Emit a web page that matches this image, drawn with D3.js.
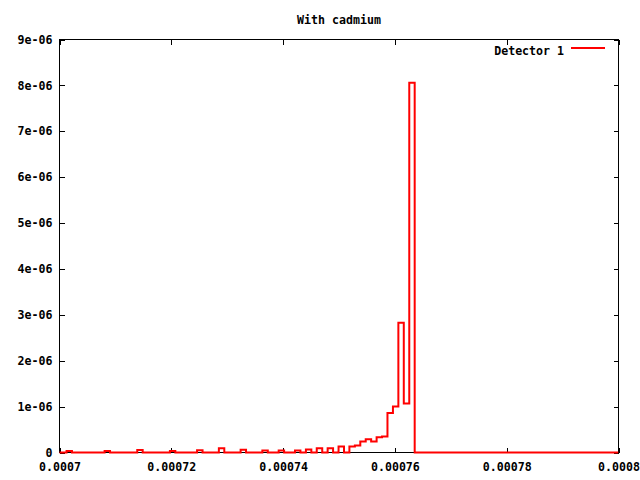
<!DOCTYPE html>
<html>
<head>
<meta charset="utf-8">
<script src="https://cdn.jsdelivr.net/npm/d3@7"></script>
<style>
  html, body { margin: 0; padding: 0; background: #fff; }
  text { font-family: "DejaVu Sans Mono", "Liberation Mono", monospace; font-weight: bold; font-size: 11.6px; fill: #000; }
</style>
</head>
<body>
<svg id="chart" width="640" height="480"></svg>
<script>
// Bin left edges (ascending) and bin contents
const binLeft = [
  0.00069931, 0.00070028, 0.00070126, 0.00070223, 0.00070320, 0.00070418, 0.00070515, 0.00070612,
  0.00070709, 0.00070807, 0.00070904, 0.00071001, 0.00071099, 0.00071196, 0.00071293, 0.00071391,
  0.00071488, 0.00071585, 0.00071683, 0.00071780, 0.00071877, 0.00071975, 0.00072072, 0.00072169,
  0.00072267, 0.00072364, 0.00072461, 0.00072559, 0.00072656, 0.00072753, 0.00072851, 0.00072948,
  0.00073045, 0.00073142, 0.00073240, 0.00073337, 0.00073434, 0.00073532, 0.00073629, 0.00073726,
  0.00073824, 0.00073921, 0.00074018, 0.00074116, 0.00074213, 0.00074310, 0.00074408, 0.00074505,
  0.00074602, 0.00074700, 0.00074797, 0.00074894, 0.00074992, 0.00075089, 0.00075186, 0.00075284,
  0.00075381, 0.00075478, 0.00075575, 0.00075673, 0.00075770, 0.00075867, 0.00075965, 0.00076062,
  0.00076159, 0.00076257
];
const binLastRight = 0.00076354;
const detector1 = [
  0, 0, 0.035e-6, 0, 0, 0, 0, 0,
  0, 0.035e-6, 0, 0, 0, 0, 0, 0.055e-6,
  0, 0, 0, 0, 0, 0.035e-6, 0, 0,
  0, 0, 0.05e-6, 0, 0, 0, 0.09e-6, 0,
  0, 0, 0.06e-6, 0, 0, 0, 0.045e-6, 0,
  0, 0.045e-6, 0, 0, 0.045e-6, 0, 0.065e-6, 0,
  0.09e-6, 0, 0.09e-6, 0, 0.13e-6, 0, 0.13e-6, 0.15e-6,
  0.24e-6, 0.29e-6, 0.24e-6, 0.33e-6, 0.35e-6, 0.86e-6, 1.00e-6, 2.83e-6,
  1.07e-6, 8.06e-6
];
const xTicks = [0.0007, 0.00072, 0.00074, 0.00076, 0.00078, 0.0008];
const xTickLabels = ["0.0007", "0.00072", "0.00074", "0.00076", "0.00078", "0.0008"];
const yTicks = [0, 1e-6, 2e-6, 3e-6, 4e-6, 5e-6, 6e-6, 7e-6, 8e-6, 9e-6];
const yTickLabels = ["0", "1e-06", "2e-06", "3e-06", "4e-06", "5e-06", "6e-06", "7e-06", "8e-06", "9e-06"];
const titleText = "With cadmium";
const seriesName = "Detector 1";

const svg = d3.select("#chart");
const L = 59.5, R = 618.5, T = 39.5, B = 452.5;

const x = d3.scaleLinear().domain([0.0007, 0.0008]).range([L, R]);
const y = d3.scaleLinear().domain([0, 9e-6]).range([B, T]);

// clip
svg.append("defs").append("clipPath").attr("id", "clip")
  .append("rect").attr("x", L).attr("y", 0).attr("width", R - L).attr("height", 480);

// axes
const fmtX = (d, i) => xTickLabels[i];
const fmtY = (d, i) => yTickLabels[i];

const gB = svg.append("g").attr("transform", `translate(0,${B})`)
  .call(d3.axisBottom(x).tickValues(xTicks).tickFormat(fmtX).tickSize(-5).tickPadding(10));
const gL = svg.append("g").attr("transform", `translate(${L},0)`)
  .call(d3.axisLeft(y).tickValues(yTicks).tickFormat(fmtY).tickSize(-5).tickPadding(7));
const gT = svg.append("g").attr("transform", `translate(0,${T})`)
  .call(d3.axisTop(x).tickValues(xTicks).tickFormat("").tickSize(-5));
const gR = svg.append("g").attr("transform", `translate(${R},0)`)
  .call(d3.axisRight(y).tickValues(yTicks).tickFormat("").tickSize(-5));

[gB, gL, gT, gR].forEach(g => {
  g.select(".domain").remove();
  g.selectAll("line").attr("stroke", "#000").attr("shape-rendering", "crispEdges");
  g.selectAll("text").attr("font-family", null).attr("font-size", null).style("fill", "#000");
});

svg.append("rect").attr("x", L).attr("y", T).attr("width", R - L).attr("height", B - T)
  .attr("fill", "none").attr("stroke", "#000").attr("stroke-width", 1).attr("shape-rendering", "crispEdges");

// step histogram
const pts = binLeft.map((e, i) => [e, detector1[i]]);
pts.push([binLastRight, 0]);
pts.push([0.0008, 0]);
const line = d3.line().x(d => x(d[0])).y(d => y(d[1])).curve(d3.curveStepAfter);
svg.append("path").attr("clip-path", "url(#clip)")
  .attr("d", line(pts))
  .attr("fill", "none").attr("stroke", "#ff0000").attr("stroke-width", 2)
  .attr("stroke-linejoin", "miter");

// title
svg.append("text").attr("x", (L + R) / 2).attr("y", 24).attr("text-anchor", "middle").text(titleText);

// legend
svg.append("text").attr("x", 564).attr("y", 55).attr("text-anchor", "end").text(seriesName);
svg.append("line").attr("x1", 571).attr("x2", 605).attr("y1", 48).attr("y2", 48)
  .attr("stroke", "#ff0000").attr("stroke-width", 2);
</script>
</body>
</html>
